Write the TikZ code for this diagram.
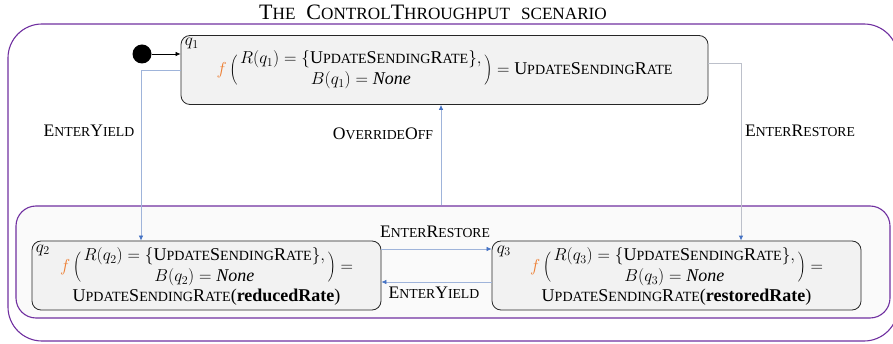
\documentclass[tikz,border=0pt]{standalone}
\usepackage{fontspec}
\setmainfont{Liberation Serif}
\usepackage{graphicx}
\usetikzlibrary{arrows.meta,calc}
\newcommand\ssc[1]{\scalebox{0.78}{#1}}
\newcommand\USR{U\ssc{PDATE}S\ssc{ENDING}R\ssc{ATE}}
\newcommand\lpar{\mathopen{\left(\vcenter{\hbox{\rule{0pt}{31pt}}}\right.}}
\newcommand\rpar{\mathclose{\left.\vcenter{\hbox{\rule{0pt}{31pt}}}\right)}}
\newcommand\fexpr[1]{\textcolor{forange}{f}\,\lpar\begin{array}{c}R(q_{#1})=\{\mbox{\USR}\},\\ B(q_{#1})=\mathit{None}\end{array}\rpar=}
\definecolor{vpurple}{HTML}{7030A0}
\definecolor{forange}{HTML}{ED7D31}
\definecolor{boxfill}{HTML}{F2F2F2}
\definecolor{subfill}{HTML}{FAFAFA}
\definecolor{edgeblue}{HTML}{9FB4DA}
\definecolor{edgegray}{HTML}{BCC0CA}
\definecolor{tipblue}{HTML}{4472C4}
\setlength{\arraycolsep}{1.5pt}
\begin{document}
\begin{tikzpicture}[x=1pt,y=-1pt,
  container/.style={draw=vpurple, line width=1.1pt, inner sep=0pt},
  statebox/.style={draw=black!85, line width=0.8pt, fill=boxfill, rounded corners=9pt, inner sep=0pt, align=center, font=\fontsize{18}{21}\selectfont},
  qlabel/.style={anchor=north west, inner sep=1pt, font=\fontsize{18}{20}\selectfont},
  lbl/.style={inner sep=0pt, font=\fontsize{17.6}{19}\selectfont},
  edge/.style={draw=edgeblue, line width=0.7pt, -{Latex[length=5pt,width=4.5pt,color=tipblue]}},
  edgeg/.style={draw=edgegray, line width=0.9pt, -{Latex[length=5pt,width=4.5pt,color=tipblue]}}
]
\useasboundingbox (0,0) rectangle (893,344);
% title
\node[inner sep=0pt, font=\fontsize{22}{24}\selectfont] (title) at (433,12) {T\ssc{HE}\ \ C\ssc{ONTROL}T\ssc{HROUGHPUT}\ \ \ssc{SCENARIO}};
% containers
\node[container, rounded corners=34pt, minimum width=890pt, minimum height=317pt] (outer) at (453,182.5) {};
\node[container, fill=subfill, rounded corners=20pt, minimum width=874pt, minimum height=112pt] (sub) at (453,262) {};
% initial
\node[circle, fill=black, minimum size=19pt, inner sep=0pt] (init) at (142,54) {};
% states
\node[statebox, minimum width=527pt, minimum height=69pt] (q1) at (444.5,70)
  {$\fexpr{1}\mbox{\USR}$};
\node[statebox, minimum width=349pt, minimum height=69pt] (q2) at (206.5,275.5)
  {$\fexpr{2}$\\ \USR(\textbf{reducedRate})};
\node[statebox, minimum width=369pt, minimum height=69pt] (q3) at (676.5,275.5)
  {$\fexpr{3}$\\ \USR(\textbf{restoredRate})};
\node[qlabel] (l1) at ($(q1.north west)+(3,2)$) {$q_1$};
\node[qlabel] (l2) at ($(q2.north west)+(3,3)$) {$q_2$};
\node[qlabel] (l3) at ($(q3.north west)+(4,4)$) {$q_3$};
% helper coordinates
\coordinate (ey) at (141,69);
\coordinate (ov) at (441,0);
\coordinate (er) at (741,63);
\coordinate (ha) at (0,249);
\coordinate (hb) at (0,282);
% connectors
\draw[black, line width=0.7pt, -{Latex[length=5pt,width=4.5pt]}] (init.east) -- (init.east -| q1.west);
\draw[edge] (q1.west) -| (q2.north -| ey);
\draw[edge] (sub.north -| ov) -- (q1.south -| ov);
\draw[edgeg] (q1.east |- er) -| (q3.north -| er);
\draw[edge] (q2.east |- ha) -- (q3.west |- ha);
\draw[edge] (q3.west |- hb) -- (q2.east |- hb);
% labels
\node[lbl] (tEY) at (89,131) {E\ssc{NTER}Y\ssc{IELD}};
\node[lbl] (tOO) at (383,134) {O\ssc{VERRIDE}O\ssc{FF}};
\node[lbl] (tER) at (800,131) {E\ssc{NTER}R\ssc{ESTORE}};
\node[lbl] (tER2) at (435,232) {E\ssc{NTER}R\ssc{ESTORE}};
\node[lbl] (tEY2) at (434,293) {E\ssc{NTER}Y\ssc{IELD}};
\end{tikzpicture}
\end{document}
